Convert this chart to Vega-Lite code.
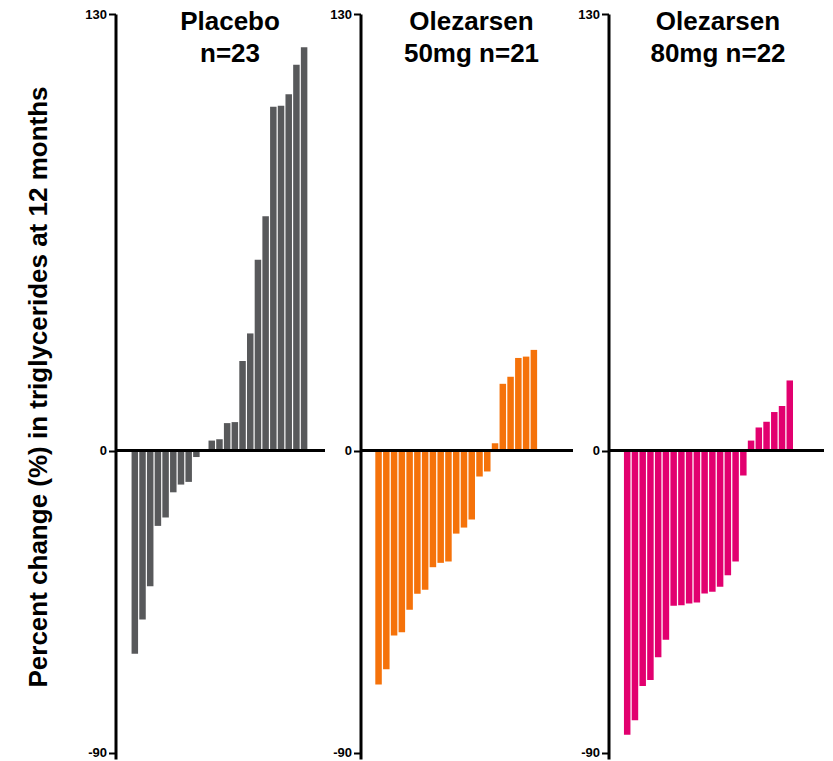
{
  "$schema": "https://vega.github.io/schema/vega-lite/v6.json",
  "background": "white",
  "padding": {"left": 24.5, "top": 8, "right": 5, "bottom": 0},
  "spacing": 3,
  "config": {
    "view": {"stroke": null},
    "font": "Liberation Sans",
    "axisY": {
      "grid": false,
      "domainColor": "black",
      "domainWidth": 3,
      "tickColor": "black",
      "tickWidth": 2,
      "tickSize": 7,
      "labelFont": "Liberation Sans",
      "labelFontWeight": "bold",
      "labelFontSize": 13,
      "labelColor": "black",
      "labelPadding": 2,
      "labelExpr": "datum.value < 0 ? '-' + abs(datum.value) : '' + datum.value",
      "titleFont": "Liberation Sans",
      "titleFontWeight": "bold",
      "titleFontSize": 26,
      "titleColor": "black"
    },
    "title": {"font": "Liberation Sans", "fontSize": 26, "fontWeight": "bold", "color": "black", "anchor": "middle", "frame": "group", "lineHeight": 32, "offset": -59}
  },
  "datasets": {
    "tg": [
      {"group": "Placebo", "rank": 1, "value": -60.5},
      {"group": "Placebo", "rank": 2, "value": -50.3},
      {"group": "Placebo", "rank": 3, "value": -40.4},
      {"group": "Placebo", "rank": 4, "value": -22.4},
      {"group": "Placebo", "rank": 5, "value": -19.9},
      {"group": "Placebo", "rank": 6, "value": -12.4},
      {"group": "Placebo", "rank": 7, "value": -10.1},
      {"group": "Placebo", "rank": 8, "value": -9.3},
      {"group": "Placebo", "rank": 9, "value": -1.9},
      {"group": "Placebo", "rank": 10, "value": 0},
      {"group": "Placebo", "rank": 11, "value": 3.0},
      {"group": "Placebo", "rank": 12, "value": 3.4},
      {"group": "Placebo", "rank": 13, "value": 8.2},
      {"group": "Placebo", "rank": 14, "value": 8.5},
      {"group": "Placebo", "rank": 15, "value": 26.7},
      {"group": "Placebo", "rank": 16, "value": 34.9},
      {"group": "Placebo", "rank": 17, "value": 56.8},
      {"group": "Placebo", "rank": 18, "value": 69.8},
      {"group": "Placebo", "rank": 19, "value": 102.4},
      {"group": "Placebo", "rank": 20, "value": 102.7},
      {"group": "Placebo", "rank": 21, "value": 106.1},
      {"group": "Placebo", "rank": 22, "value": 114.9},
      {"group": "Placebo", "rank": 23, "value": 120.1},
      {"group": "50mg", "rank": 1, "value": -69.6},
      {"group": "50mg", "rank": 2, "value": -65.1},
      {"group": "50mg", "rank": 3, "value": -55.0},
      {"group": "50mg", "rank": 4, "value": -54.1},
      {"group": "50mg", "rank": 5, "value": -47.4},
      {"group": "50mg", "rank": 6, "value": -42.6},
      {"group": "50mg", "rank": 7, "value": -41.4},
      {"group": "50mg", "rank": 8, "value": -34.7},
      {"group": "50mg", "rank": 9, "value": -33.4},
      {"group": "50mg", "rank": 10, "value": -33.0},
      {"group": "50mg", "rank": 11, "value": -24.7},
      {"group": "50mg", "rank": 12, "value": -22.9},
      {"group": "50mg", "rank": 13, "value": -20.5},
      {"group": "50mg", "rank": 14, "value": -7.7},
      {"group": "50mg", "rank": 15, "value": -6.2},
      {"group": "50mg", "rank": 16, "value": 2.2},
      {"group": "50mg", "rank": 17, "value": 19.9},
      {"group": "50mg", "rank": 18, "value": 22.0},
      {"group": "50mg", "rank": 19, "value": 27.6},
      {"group": "50mg", "rank": 20, "value": 28.0},
      {"group": "50mg", "rank": 21, "value": 30.0},
      {"group": "80mg", "rank": 1, "value": -84.6},
      {"group": "80mg", "rank": 2, "value": -80.3},
      {"group": "80mg", "rank": 3, "value": -70.1},
      {"group": "80mg", "rank": 4, "value": -68.3},
      {"group": "80mg", "rank": 5, "value": -61.5},
      {"group": "80mg", "rank": 6, "value": -56.3},
      {"group": "80mg", "rank": 7, "value": -46.2},
      {"group": "80mg", "rank": 8, "value": -46.0},
      {"group": "80mg", "rank": 9, "value": -45.5},
      {"group": "80mg", "rank": 10, "value": -45.2},
      {"group": "80mg", "rank": 11, "value": -42.5},
      {"group": "80mg", "rank": 12, "value": -42.0},
      {"group": "80mg", "rank": 13, "value": -40.5},
      {"group": "80mg", "rank": 14, "value": -37.1},
      {"group": "80mg", "rank": 15, "value": -33.0},
      {"group": "80mg", "rank": 16, "value": -7.4},
      {"group": "80mg", "rank": 17, "value": 3.0},
      {"group": "80mg", "rank": 18, "value": 6.9},
      {"group": "80mg", "rank": 19, "value": 8.6},
      {"group": "80mg", "rank": 20, "value": 11.5},
      {"group": "80mg", "rank": 21, "value": 13.3},
      {"group": "80mg", "rank": 22, "value": 20.9}
    ]
  },
  "hconcat": [
    {
      "width": 209,
      "height": 745,
      "title": {"text": ["Placebo", "n=23"], "dx": 10},
      "data": {"name": "tg"},
      "transform": [{"filter": "datum.group === 'Placebo'"}],
      "layer": [
        {
          "mark": {"type": "bar", "width": 6.5, "color": "#58595b"},
          "encoding": {
            "x": {"field": "rank", "type": "quantitative", "scale": {"domain": [-0.86, 25.0], "nice": false, "zero": false}, "axis": null},
            "y": {"field": "value", "type": "quantitative", "scale": {"domain": [-91.8, 130], "nice": false, "zero": false}, "axis": {"values": [-90, 0, 130], "title": "Percent change (%) in triglycerides at 12 months", "titlePadding": 33.5}}
          }
        },
        {"mark": {"type": "rule", "color": "black", "strokeWidth": 2.5}, "encoding": {"y": {"datum": 0}}}
      ]
    },
    {
      "width": 212,
      "height": 745,
      "title": {"text": ["Olezarsen", "50mg n=21"], "dx": 5},
      "data": {"name": "tg"},
      "transform": [{"filter": "datum.group === '50mg'"}],
      "layer": [
        {
          "mark": {"type": "bar", "width": 6.5, "color": "#f5720a"},
          "encoding": {
            "x": {"field": "rank", "type": "quantitative", "scale": {"domain": [-0.68, 25.33], "nice": false, "zero": false}, "axis": null},
            "y": {"field": "value", "type": "quantitative", "scale": {"domain": [-91.8, 130], "nice": false, "zero": false}, "axis": {"values": [-90, 0, 130], "title": null}}
          }
        },
        {"mark": {"type": "rule", "color": "black", "strokeWidth": 2.5}, "encoding": {"y": {"datum": 0}}}
      ]
    },
    {
      "width": 215,
      "height": 745,
      "title": {"text": ["Olezarsen", "80mg n=22"], "dx": 2},
      "data": {"name": "tg"},
      "transform": [{"filter": "datum.group === '80mg'"}],
      "layer": [
        {
          "mark": {"type": "bar", "width": 6.5, "color": "#e2006f"},
          "encoding": {
            "x": {"field": "rank", "type": "quantitative", "scale": {"domain": [-0.77, 25.71], "nice": false, "zero": false}, "axis": null},
            "y": {"field": "value", "type": "quantitative", "scale": {"domain": [-91.8, 130], "nice": false, "zero": false}, "axis": {"values": [-90, 0, 130], "title": null}}
          }
        },
        {"mark": {"type": "rule", "color": "black", "strokeWidth": 2.5}, "encoding": {"y": {"datum": 0}}}
      ]
    }
  ]
}
